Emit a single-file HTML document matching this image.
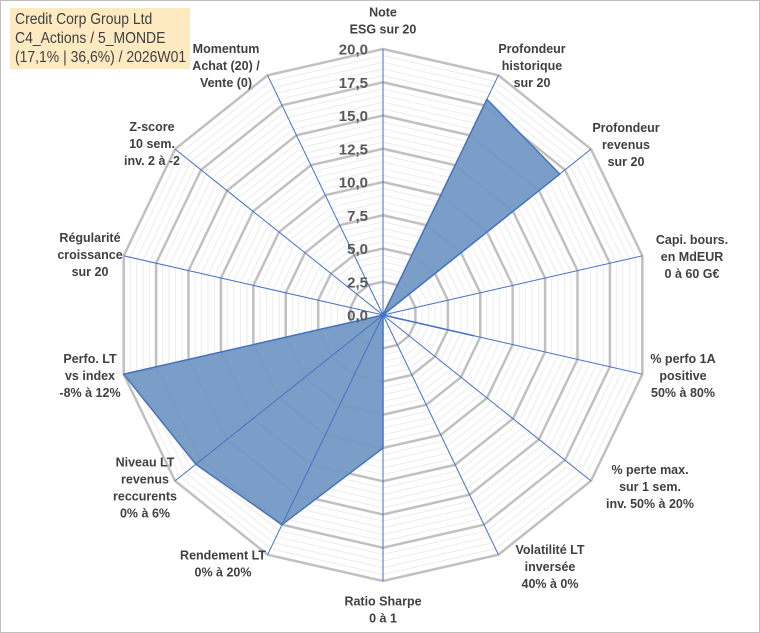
<!DOCTYPE html>
<html><head><meta charset="utf-8"><style>
html,body{margin:0;padding:0;background:#fff;}
#wrap{position:relative;width:760px;height:633px;overflow:hidden;}
svg{position:absolute;left:0;top:0;}
#title{position:absolute;left:10px;top:8px;width:180px;height:61px;background:#fdeac1;font-family:"Liberation Sans",sans-serif;font-size:15.5px;line-height:19px;color:#404040;padding:2px 0 0 5px;box-sizing:border-box;white-space:nowrap;}
#title span{display:inline-block;transform:scaleX(0.9);transform-origin:left center;}
</style></head><body>
<div id="wrap">
<svg id="chart" width="760" height="633"></svg>
<div id="title"><span>Credit Corp Group Ltd</span><br><span>C4_Actions / 5_MONDE</span><br><span>(17,1% | 36,6%) / 2026W01</span></div>
</div>
<script>
const categories = [
 ["Note","ESG sur 20"],
 ["Profondeur","historique","sur 20"],
 ["Profondeur","revenus","sur 20"],
 ["Capi. bours.","en MdEUR","0 à 60 G€"],
 ["% perfo 1A","positive","50% à 80%"],
 ["% perte max.","sur 1 sem.","inv. 50% à 20%"],
 ["Volatilité LT","inversée","40% à 0%"],
 ["Ratio Sharpe","0 à 1"],
 ["Rendement LT","0% à 20%"],
 ["Niveau LT","revenus","reccurents","0% à 6%"],
 ["Perfo. LT","vs index","-8% à 12%"],
 ["Régularité","croissance","sur 20"],
 ["Z-score","10 sem.","inv. 2 à -2"],
 ["Momentum","Achat (20) /","Vente (0)"]
];
const values = [0, 18, 17, 0, 7, 0, 0, 10, 17.5, 18, 20, 0, 0, 0];
const tickLabels = ["0,0","2,5","5,0","7,5","10,0","12,5","15,0","17,5","20,0"];
const maxVal = 20;
const labelPos = [[383,21],[532,66],[626,145],[692,257],[683,376],[650,487],[550,567],[383,610],[223,564],[145,488],[90,376],[90,255],[152,144],[226,66]];

const NS="http://www.w3.org/2000/svg";
const svg=document.getElementById('chart');
const cx=383, cy=315, R=266, N=categories.length;
function ang(i){return i*2*Math.PI/N;}
function pt(i,v){const r=v/maxVal*R;return [cx+r*Math.sin(ang(i)), cy-r*Math.cos(ang(i))];}
function mk(tag,attrs){const e=document.createElementNS(NS,tag);for(const k in attrs)e.setAttribute(k,attrs[k]);svg.appendChild(e);return e;}

const border=mk('rect',{x:0.5,y:0.5,width:759,height:632,fill:'none',stroke:'#bfbfbf'});



for(let v=0.5;v<=maxVal+0.01;v+=0.5){
 const major=Math.abs(v/2.5-Math.round(v/2.5))<1e-6;
 const p=[];for(let i=0;i<N;i++)p.push(pt(i,v).join(','));
 const g=mk('polygon',{points:p.join(' '),fill:'none',stroke:major?'#c0c0c0':'#ececec','stroke-width':major?2.5:1});
 
 
}
const sp=values.map((v,i)=>pt(i,v).join(',')).join(' ');
const area=mk('polygon',{points:sp,fill:'#7399c4',stroke:'#4a74b8','stroke-width':1.5,'stroke-linejoin':'round','fill-opacity':0.95});


for(let i=0;i<N;i++){
 const [x,y]=pt(i,maxVal);
 const l=mk('line',{x1:cx,y1:cy,x2:x,y2:y,stroke:'#4472c4','stroke-width':1});
 
 
}
tickLabels.forEach((t,k)=>{
 const y=cy-k*2.5/maxVal*R;
 const tx=mk('text',{x:368,y:y+1,'text-anchor':'end','dominant-baseline':'central','font-family':'Liberation Sans, sans-serif','font-size':15,'font-weight':'bold',fill:'#595959'});
 tx.textContent=t;
 
 
});
categories.forEach((lines,i)=>{
 const [x,yc]=labelPos[i];
 const h=17, y0=yc-(lines.length-1)*h/2;
 const t=mk('text',{'text-anchor':'middle','font-family':'Liberation Sans, sans-serif','font-size':12.5,'font-weight':'bold',fill:'#404040'});
 
 
 lines.forEach((s,j)=>{const ts=document.createElementNS(NS,'tspan');ts.setAttribute('x',x);ts.setAttribute('y',y0+j*h+4);ts.textContent=s;t.appendChild(ts);});
});
</script>
</body></html>
